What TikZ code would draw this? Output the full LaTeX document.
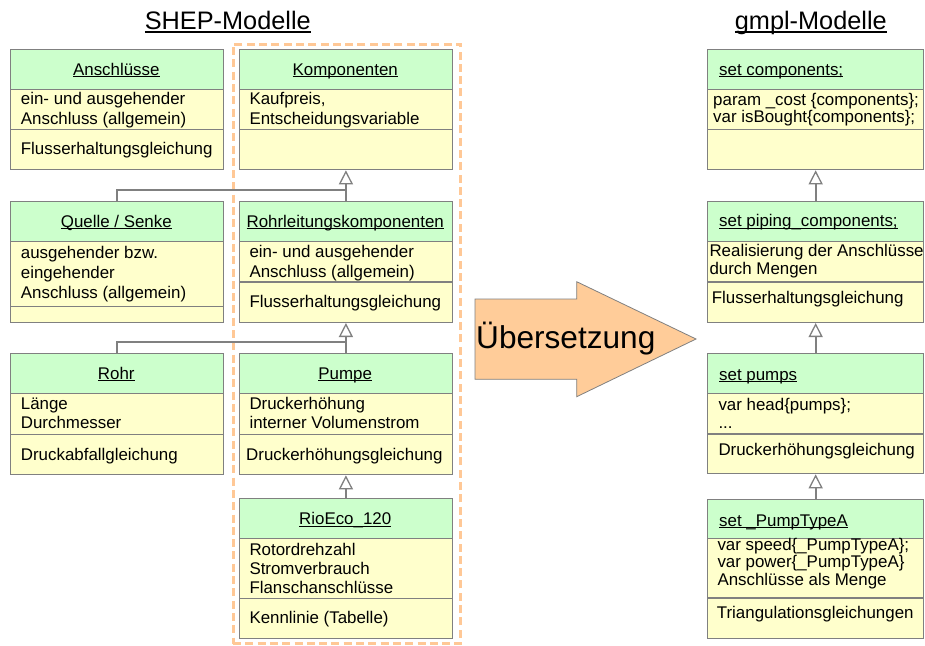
\documentclass[tikz,border=0pt]{standalone}
\usepackage{fontspec}
\setmainfont{Liberation Sans}
\usetikzlibrary{arrows.meta}
\definecolor{hdrgreen}{RGB}{204,255,204}
\definecolor{attryellow}{RGB}{255,255,204}
\definecolor{boxgray}{RGB}{128,128,128}
\definecolor{dashorange}{RGB}{255,200,150}
\definecolor{arroworange}{RGB}{255,204,153}
\newcommand\bodyfont{\fontsize{16.9}{19}\selectfont}
\newcommand\myul[1]{\setbox0\hbox{#1}\rlap{\rule[-2.3pt]{\wd0}{0.9pt}}\box0}
\newcommand\mytitleul[1]{\setbox0\hbox{#1}\rlap{\rule[-3pt]{\wd0}{1.3pt}}\box0}
\begin{document}
\begin{tikzpicture}[x=1pt,y=-1pt,
  box/.style={draw=boxgray, line width=1.3pt, inner sep=0pt, anchor=north west},
  hdr/.style={box, fill=hdrgreen, minimum height=40pt},
  cmp/.style={box, fill=attryellow},
  colL/.style={minimum width=212.5pt},
  colR/.style={minimum width=216pt},
  txt/.style={anchor=base west, inner sep=0pt, font=\bodyfont},
  htxt/.style={anchor=base, inner sep=0pt, font=\bodyfont},
  conn/.style={draw=boxgray, line width=2pt},
  gen/.style={conn, -{Triangle[length=14pt, width=14pt, fill=white, line width=1.3pt]}},
  ttl/.style={anchor=base, inner sep=0pt, font=\fontsize{25.3}{30}\selectfont}
]
\useasboundingbox (0,0) rectangle (925,645);
\fill[white] (0,0) rectangle (925,645);

% titles
\node[ttl] (t1) at (227.8,29.5) {\mytitleul{SHEP-Modelle}};
\node[ttl] (t2) at (810.8,29.5) {\mytitleul{gmpl-Modelle}};

% dashed group
\node[draw=dashorange, line width=3pt, dash pattern=on 8pt off 4.3pt, inner sep=0pt,
      anchor=north west, minimum width=227.8pt, minimum height=599.3pt] (grp) at (231.5,42.7) {};

% ---------- left column ----------
\node[hdr, colL] (anH) at (10,49) {};
\node[cmp, colL, minimum height=40pt] (anA) at (10,89) {};
\node[cmp, colL, minimum height=40pt] (anO) at (10,129) {};
\node[htxt] (anT) at (116.3,75) {\myul{Anschlüsse}};
\node[txt] (anA1) at (20.7,104.3) {ein- und ausgehender};
\node[txt] (anA2) at (20.7,124.3) {Anschluss (allgemein)};
\node[txt] (anO1) at (20.7,154) {Flusserhaltungsgleichung};

\node[hdr, colL] (quH) at (10,201) {};
\node[cmp, colL, minimum height=64.7pt] (quA) at (10,241) {};
\node[cmp, colL, minimum height=16pt] (quO) at (10,305.7) {};
\node[htxt] (quT) at (116.3,227) {\myul{Quelle / Senke}};
\node[txt] (quA1) at (20.7,258.3) {ausgehender bzw.};
\node[txt] (quA2) at (20.7,278.3) {eingehender};
\node[txt] (quA3) at (20.7,298.3) {Anschluss (allgemein)};

\node[hdr, colL] (roH) at (10,353) {};
\node[cmp, colL, minimum height=41pt] (roA) at (10,393) {};
\node[cmp, colL, minimum height=40pt] (roO) at (10,434) {};
\node[htxt] (roT) at (116.3,379) {\myul{Rohr}};
\node[txt] (roA1) at (20.7,409.3) {Länge};
\node[txt] (roA2) at (20.7,428.3) {Durchmesser};
\node[txt] (roO1) at (20.7,460) {Druckabfallgleichung};

% ---------- middle column ----------
\node[hdr, colL] (koH) at (239,49) {};
\node[cmp, colL, minimum height=40pt] (koA) at (239,89) {};
\node[cmp, colL, minimum height=40pt] (koO) at (239,129) {};
\node[htxt] (koT) at (345.2,75) {\myul{Komponenten}};
\node[txt] (koA1) at (249.3,104) {Kaufpreis,};
\node[txt] (koA2) at (249.3,124) {Entscheidungsvariable};

\node[hdr, colL] (rlH) at (239,201) {};
\node[cmp, colL, minimum height=40.3pt] (rlA) at (239,241) {};
\node[cmp, colL, minimum height=40.4pt] (rlO) at (239,281.3) {};
\node[htxt] (rlT) at (345.2,227) {\myul{Rohrleitungskomponenten}};
\node[txt] (rlA1) at (249.3,257) {ein- und ausgehender};
\node[txt] (rlA2) at (249.3,277) {Anschluss (allgemein)};
\node[txt] (rlO1) at (249.3,307.3) {Flusserhaltungsgleichung};

\node[hdr, colL] (puH) at (239,353) {};
\node[cmp, colL, minimum height=41pt] (puA) at (239,393) {};
\node[cmp, colL, minimum height=40pt] (puO) at (239,434) {};
\node[htxt] (puT) at (345.2,379) {\myul{Pumpe}};
\node[txt] (puA1) at (249.3,409.3) {Druckerhöhung};
\node[txt] (puA2) at (249.3,428.3) {interner Volumenstrom};
\node[txt] (puO1) at (246,460) {Druckerhöhungsgleichung};

\node[hdr, colL, minimum height=39.7pt] (riH) at (239,498) {};
\node[cmp, colL, minimum height=60pt] (riA) at (239,537.7) {};
\node[cmp, colL, minimum height=40pt] (riO) at (239,597.7) {};
\node[htxt] (riT) at (345.2,524.3) {\myul{RioEco\_120}};
\node[txt] (riA1) at (249.3,555) {Rotordrehzahl};
\node[txt] (riA2) at (249.3,574) {Stromverbrauch};
\node[txt] (riA3) at (249.3,593.3) {Flanschanschlüsse};
\node[txt] (riO1) at (249.3,623.3) {Kennlinie (Tabelle)};

% ---------- right column ----------
\node[hdr, colR] (scH) at (707,49) {};
\node[cmp, colR, minimum height=40pt] (scA) at (707,89) {};
\node[cmp, colR, minimum height=40pt] (scO) at (707,129) {};
\node[txt] (scT) at (719,75) {\myul{set components;}};
\node[txt] (scA1) at (713,105) {param \_cost \{components\};};
\node[txt] (scA2) at (713,122.3) {var isBought\{components\};};

\node[hdr, colR] (spH) at (707,201) {};
\node[cmp, colR, minimum height=40.3pt] (spA) at (707,241) {};
\node[cmp, colR, minimum height=40.4pt] (spO) at (707,281.3) {};
\node[txt] (spT) at (719,226.7) {\myul{set piping\_components;}};
\node[txt] (spA1) at (709.3,256.3) {Realisierung der Anschlüsse};
\node[txt] (spA2) at (709.3,274) {durch Mengen};
\node[txt] (spO1) at (711.7,303) {Flusserhaltungsgleichung};

\node[hdr, colR] (pmH) at (707,353) {};
\node[cmp, colR, minimum height=40.3pt] (pmA) at (707,393) {};
\node[cmp, colR, minimum height=39.7pt] (pmO) at (707,433.3) {};
\node[txt] (pmT) at (719,380) {\myul{set pumps}};
\node[txt] (pmA1) at (718.3,410) {var head\{pumps\};};
\node[txt] (pmA2) at (718.3,428.3) {...};
\node[txt] (pmO1) at (718.3,455) {Druckerhöhungsgleichung};

\node[hdr, colR, minimum height=39pt] (ptH) at (707,499) {};
\node[cmp, colR, minimum height=59.3pt] (ptA) at (707,538) {};
\node[cmp, colR, minimum height=40.4pt] (ptO) at (707,597.3) {};
\node[txt] (ptT) at (719,526) {\myul{set \_PumpTypeA}};
\node[txt] (ptA1) at (717.3,550) {var speed\{\_PumpTypeA\};};
\node[txt] (ptA2) at (717.3,567.7) {var power\{\_PumpTypeA\}};
\node[txt] (ptA3) at (717.3,585.7) {Anschlüsse als Menge};
\node[txt] (ptO1) at (716.7,618.3) {Triangulationsgleichungen};

% ---------- generalisation connectors ----------
\coordinate (j1) at (345.2,189.5);
\coordinate (j2) at (345.2,341.5);
\draw[conn] (quH.north) |- (j1);
\draw[gen] (rlH.north) -- (koO.south);
\draw[conn] (roH.north) |- (j2);
\draw[gen] (puH.north) -- (rlO.south);
\draw[gen] (riH.north) -- (puO.south);
\draw[gen] (spH.north) -- (scO.south);
\draw[gen] (pmH.north) -- (spO.south);
\draw[gen] (ptH.north) -- (pmO.south);

% ---------- translation arrow ----------
\filldraw[fill=arroworange, draw=boxgray, line width=0.8pt]
  (475,299) -- (576.7,299) -- (576.7,281.7) -- (696,339) -- (576.7,396.7)
  -- (576.7,379.3) -- (475,379.3) -- cycle;
\node[anchor=base west, inner sep=0pt, font=\fontsize{31.6}{36}\selectfont] (ueb) at (476,348) {Übersetzung};
\end{tikzpicture}
\end{document}
